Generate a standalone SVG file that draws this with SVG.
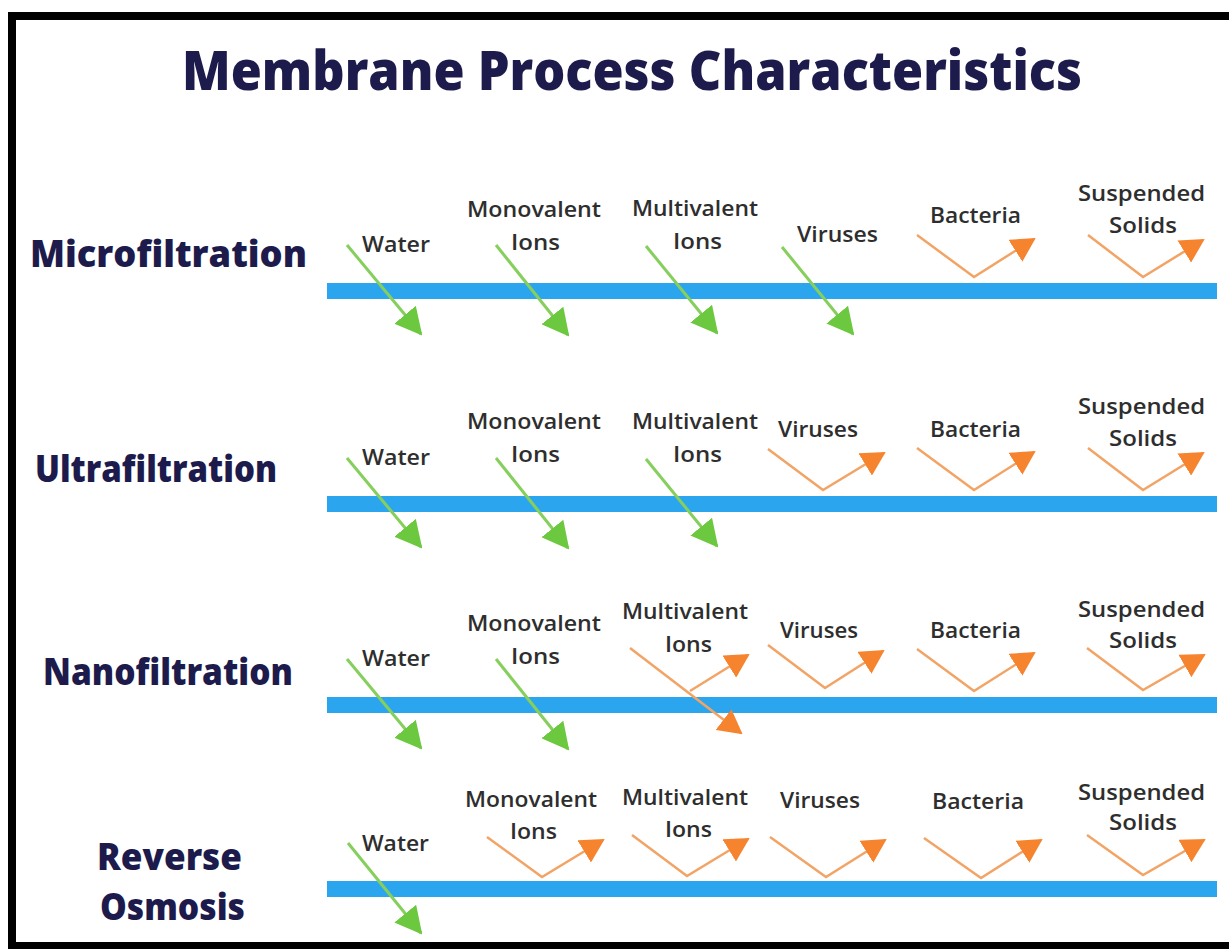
<svg xmlns="http://www.w3.org/2000/svg" width="1229" height="949" viewBox="0 0 1229 949">
<style>
.title{font-family:"Open Sans","Liberation Sans",sans-serif;font-weight:800;font-size:54px;fill:#1d1b4c}
.row{font-family:"Open Sans","Liberation Sans",sans-serif;font-weight:800;font-size:37px;fill:#1d1b4c}
.item{font-family:"Open Sans","Liberation Sans",sans-serif;font-weight:600;font-size:22px;fill:#2e2e2e}
.bar{fill:#2ba6ee}
.pass{fill:none;stroke:#86cf5c;stroke-width:3}
.rej{fill:none;stroke:#f2a466;stroke-width:2.5}
</style>
<defs>
<marker id="gh" viewBox="0 0 27 28" refX="25" refY="14" markerWidth="27" markerHeight="28" markerUnits="userSpaceOnUse" orient="auto"><path d="M0,0 L27,14 L0,28 Z" fill="#6cc83e"/></marker>
<marker id="oh" viewBox="0 0 24 26" refX="22" refY="13" markerWidth="24" markerHeight="26" markerUnits="userSpaceOnUse" orient="auto"><path d="M0,0 L24,13 L0,26 Z" fill="#f6842f"/></marker>
</defs>
<rect width="1229" height="949" fill="#ffffff"/>
<path d="M1229,16 H12 V946 H1229" fill="none" stroke="#000" stroke-width="8"/>
<g id="title"><text class="title" x="182" y="90" textLength="900" lengthAdjust="spacingAndGlyphs">Membrane Process Characteristics</text></g>

<g id="label-micro"><text class="row" x="30" y="267" textLength="277" lengthAdjust="spacingAndGlyphs">Microfiltration</text></g>
<g id="label-ultra"><text class="row" x="35" y="482" textLength="242" lengthAdjust="spacingAndGlyphs">Ultrafiltration</text></g>
<g id="label-nano"><text class="row" x="43" y="685" textLength="250" lengthAdjust="spacingAndGlyphs">Nanofiltration</text></g>
<g id="label-ro"><text class="row" x="97" y="870" textLength="145" lengthAdjust="spacingAndGlyphs">Reverse</text><text class="row" x="100" y="920" textLength="145" lengthAdjust="spacingAndGlyphs">Osmosis</text></g>

<g id="membrane-micro"><rect class="bar" x="327" y="283" width="890" height="16"/></g>
<g id="membrane-ultra"><rect class="bar" x="327" y="496" width="890" height="16"/></g>
<g id="membrane-nano"><rect class="bar" x="327" y="697" width="890" height="16"/></g>
<g id="membrane-ro"><rect class="bar" x="327" y="881" width="890" height="16"/></g>

<g id="micro-items">
<g id="micro-water"><text class="item" x="362" y="252" textLength="68" lengthAdjust="spacingAndGlyphs">Water</text></g>
<g id="micro-mono"><text class="item" x="467" y="217" textLength="134" lengthAdjust="spacingAndGlyphs">Monovalent</text><text class="item" x="511" y="250" textLength="49" lengthAdjust="spacingAndGlyphs">Ions</text></g>
<g id="micro-multi"><text class="item" x="632" y="216" textLength="126" lengthAdjust="spacingAndGlyphs">Multivalent</text><text class="item" x="673" y="249" textLength="49" lengthAdjust="spacingAndGlyphs">Ions</text></g>
<g id="micro-viruses"><text class="item" x="797" y="242" textLength="81" lengthAdjust="spacingAndGlyphs">Viruses</text></g>
<g id="micro-bacteria"><text class="item" x="930" y="223" textLength="91" lengthAdjust="spacingAndGlyphs">Bacteria</text></g>
<g id="micro-solids"><text class="item" x="1078" y="201" textLength="127" lengthAdjust="spacingAndGlyphs">Suspended</text><text class="item" x="1109" y="233" textLength="68" lengthAdjust="spacingAndGlyphs">Solids</text></g>
</g>

<g id="ultra-items">
<g id="ultra-water"><text class="item" x="362" y="465" textLength="68" lengthAdjust="spacingAndGlyphs">Water</text></g>
<g id="ultra-mono"><text class="item" x="467" y="429" textLength="134" lengthAdjust="spacingAndGlyphs">Monovalent</text><text class="item" x="511" y="462" textLength="49" lengthAdjust="spacingAndGlyphs">Ions</text></g>
<g id="ultra-multi"><text class="item" x="632" y="429" textLength="126" lengthAdjust="spacingAndGlyphs">Multivalent</text><text class="item" x="673" y="462" textLength="49" lengthAdjust="spacingAndGlyphs">Ions</text></g>
<g id="ultra-viruses"><text class="item" x="778" y="437" textLength="80" lengthAdjust="spacingAndGlyphs">Viruses</text></g>
<g id="ultra-bacteria"><text class="item" x="930" y="437" textLength="91" lengthAdjust="spacingAndGlyphs">Bacteria</text></g>
<g id="ultra-solids"><text class="item" x="1078" y="414" textLength="127" lengthAdjust="spacingAndGlyphs">Suspended</text><text class="item" x="1109" y="446" textLength="68" lengthAdjust="spacingAndGlyphs">Solids</text></g>
</g>

<g id="nano-items">
<g id="nano-water"><text class="item" x="362" y="666" textLength="68" lengthAdjust="spacingAndGlyphs">Water</text></g>
<g id="nano-mono"><text class="item" x="467" y="631" textLength="134" lengthAdjust="spacingAndGlyphs">Monovalent</text><text class="item" x="511" y="664" textLength="49" lengthAdjust="spacingAndGlyphs">Ions</text></g>
<g id="nano-multi"><text class="item" x="622" y="619" textLength="126" lengthAdjust="spacingAndGlyphs">Multivalent</text><text class="item" x="665" y="652" textLength="47" lengthAdjust="spacingAndGlyphs">Ions</text></g>
<g id="nano-viruses"><text class="item" x="780" y="638" textLength="78" lengthAdjust="spacingAndGlyphs">Viruses</text></g>
<g id="nano-bacteria"><text class="item" x="930" y="638" textLength="91" lengthAdjust="spacingAndGlyphs">Bacteria</text></g>
<g id="nano-solids"><text class="item" x="1078" y="617" textLength="127" lengthAdjust="spacingAndGlyphs">Suspended</text><text class="item" x="1109" y="648" textLength="68" lengthAdjust="spacingAndGlyphs">Solids</text></g>
</g>

<g id="ro-items">
<g id="ro-water"><text class="item" x="362" y="851" textLength="67" lengthAdjust="spacingAndGlyphs">Water</text></g>
<g id="ro-mono"><text class="item" x="465" y="807" textLength="132" lengthAdjust="spacingAndGlyphs">Monovalent</text><text class="item" x="510" y="839" textLength="47" lengthAdjust="spacingAndGlyphs">Ions</text></g>
<g id="ro-multi"><text class="item" x="622" y="805" textLength="126" lengthAdjust="spacingAndGlyphs">Multivalent</text><text class="item" x="665" y="837" textLength="47" lengthAdjust="spacingAndGlyphs">Ions</text></g>
<g id="ro-viruses"><text class="item" x="780" y="808" textLength="80" lengthAdjust="spacingAndGlyphs">Viruses</text></g>
<g id="ro-bacteria"><text class="item" x="932" y="809" textLength="92" lengthAdjust="spacingAndGlyphs">Bacteria</text></g>
<g id="ro-solids"><text class="item" x="1078" y="800" textLength="127" lengthAdjust="spacingAndGlyphs">Suspended</text><text class="item" x="1109" y="830" textLength="68" lengthAdjust="spacingAndGlyphs">Solids</text></g>
</g>

<g id="connectors">
<!-- Microfiltration -->
<line class="pass" x1="347" y1="245" x2="421" y2="334" marker-end="url(#gh)"/>
<line class="pass" x1="496" y1="245" x2="568" y2="335" marker-end="url(#gh)"/>
<line class="pass" x1="646" y1="246" x2="717" y2="333" marker-end="url(#gh)"/>
<line class="pass" x1="782" y1="247" x2="853" y2="334" marker-end="url(#gh)"/>
<polyline class="rej" points="917,235 974,277 1034,239" marker-end="url(#oh)"/>
<polyline class="rej" points="1088,235 1143,277 1203,240" marker-end="url(#oh)"/>
<!-- Ultrafiltration -->
<line class="pass" x1="347" y1="458" x2="421" y2="547" marker-end="url(#gh)"/>
<line class="pass" x1="496" y1="458" x2="568" y2="548" marker-end="url(#gh)"/>
<line class="pass" x1="646" y1="459" x2="717" y2="546" marker-end="url(#gh)"/>
<polyline class="rej" points="768,449 823,490 884,453" marker-end="url(#oh)"/>
<polyline class="rej" points="917,448 974,490 1034,452" marker-end="url(#oh)"/>
<polyline class="rej" points="1088,448 1143,490 1203,453" marker-end="url(#oh)"/>
<!-- Nanofiltration -->
<line class="pass" x1="347" y1="659" x2="421" y2="748" marker-end="url(#gh)"/>
<line class="pass" x1="496" y1="659" x2="568" y2="749" marker-end="url(#gh)"/>
<line class="rej" x1="630" y1="648" x2="741" y2="733" marker-end="url(#oh)"/>
<line class="rej" x1="690" y1="691" x2="748" y2="655" marker-end="url(#oh)"/>
<polyline class="rej" points="768,645 825,688 883,651" marker-end="url(#oh)"/>
<polyline class="rej" points="917,649 974,691 1034,653" marker-end="url(#oh)"/>
<polyline class="rej" points="1087,648 1143,690 1204,655" marker-end="url(#oh)"/>
<!-- Reverse Osmosis -->
<line class="pass" x1="348" y1="843" x2="421" y2="933" marker-end="url(#gh)"/>
<polyline class="rej" points="487,837 542,877 603,840" marker-end="url(#oh)"/>
<polyline class="rej" points="632,835 687,876 748,839" marker-end="url(#oh)"/>
<polyline class="rej" points="770,837 826,877 885,840" marker-end="url(#oh)"/>
<polyline class="rej" points="924,838 981,878 1041,840" marker-end="url(#oh)"/>
<polyline class="rej" points="1087,835 1143,875 1204,840" marker-end="url(#oh)"/>
</g>
</svg>
